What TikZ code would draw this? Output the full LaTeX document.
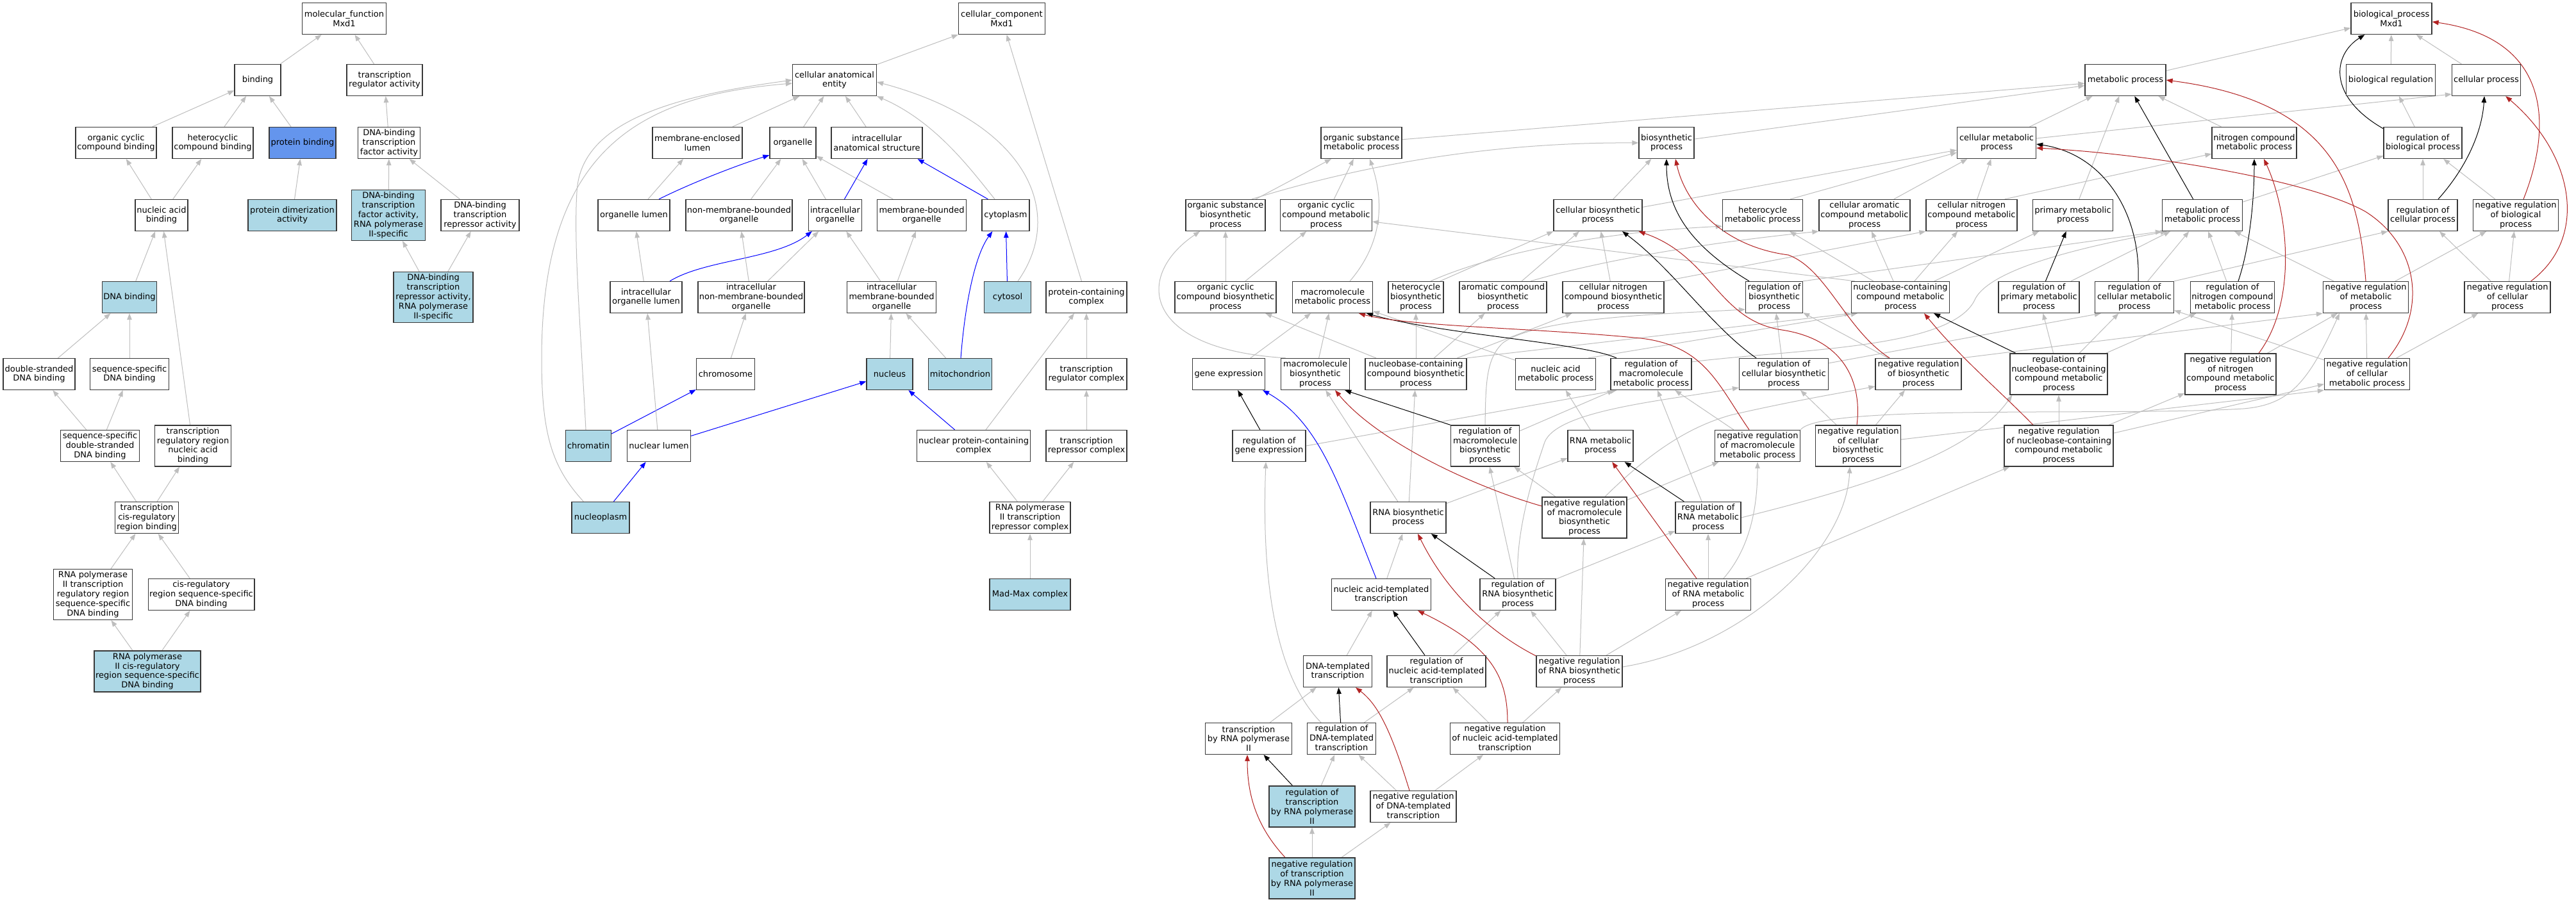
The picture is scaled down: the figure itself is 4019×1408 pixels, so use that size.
\documentclass[tikz,border=0pt]{standalone}
\usepackage{fontspec}
\setmainfont{DejaVu Sans}
\usetikzlibrary{arrows.meta,calc}
\definecolor{lb}{HTML}{ADD8E6}
\definecolor{cfb}{HTML}{6495ED}
\definecolor{eg}{HTML}{BEBEBE}
\definecolor{fb}{HTML}{B22222}
\definecolor{bd}{HTML}{383838}
\pgfdeclarelayer{edges}
\pgfsetlayers{edges,main}
\begin{document}
\begin{tikzpicture}[x=1pt,y=-1pt,
 box/.style={draw=bd,line width=1.3pt,fill=white,rectangle,inner xsep=2pt,inner ysep=0pt,align=center,minimum height=49pt,font=\fontsize{13pt}{14.8pt}\selectfont},
 hl/.style={box,fill=lb},
 h4/.style={minimum height=64pt},
 h5/.style={minimum height=79pt},
 edg/.style={line width=1pt,-{Triangle[length=10pt,width=7.5pt]}},
 isa/.style={edg,draw=eg},
 rg/.style={edg,draw=black},
 nr/.style={edg,draw=fb},
 po/.style={edg,draw=blue},
]
\useasboundingbox (0,0) rectangle (4019,1408);
% ---------------- molecular function
\node[box,minimum width=131pt] (mf) at (537,29) {molecular\_function\\Mxd1};
\node[box,minimum width=72pt] (binding) at (402,125) {binding};
\node[box,minimum width=118pt] (tra) at (600,125) {transcription\\regulator activity};
\node[box,minimum width=126pt] (occb) at (181,223) {organic cyclic\\compound binding};
\node[box,minimum width=126pt] (hccb) at (332,223) {heterocyclic\\compound binding};
\node[box,fill=cfb,minimum width=104pt] (pb) at (472,223) {protein binding};
\node[box,minimum width=97pt] (dbtfa) at (607,223) {DNA-binding\\transcription\\factor activity};
\node[box,minimum width=82pt] (nab) at (252,336) {nucleic acid\\binding};
\node[hl,minimum width=138pt] (pda) at (456,336) {protein dimerization\\activity};
\node[hl,h5,minimum width=115pt] (dbtf2) at (606,336) {DNA-binding\\transcription\\factor activity,\\RNA polymerase\\II-specific};
\node[box,minimum width=122pt] (dbtra) at (749,336) {DNA-binding\\transcription\\repressor activity};
\node[hl,minimum width=85pt] (dnab) at (202,464) {DNA binding};
\node[hl,h5,minimum width=124pt] (dbtrr2) at (676,464) {DNA-binding\\transcription\\repressor activity,\\RNA polymerase\\II-specific};
\node[box,minimum width=112pt] (dsdb) at (61,584) {double-stranded\\DNA binding};
\node[box,minimum width=123pt] (ssdb) at (202,584) {sequence-specific\\DNA binding};
\node[box,minimum width=123pt] (ssdsdb) at (156,696) {sequence-specific\\double-stranded\\DNA binding};
\node[box,h4,minimum width=119pt] (trrnab) at (301,696) {transcription\\regulatory region\\nucleic acid\\binding};
\node[box,minimum width=99pt] (tcrrb) at (229,808) {transcription\\cis-regulatory\\region binding};
\node[box,h5,minimum width=123pt] (rnap2trr) at (145,928) {RNA polymerase\\II transcription\\regulatory region\\sequence-specific\\DNA binding};
\node[box,minimum width=165pt] (crrssdb) at (314,928) {cis-regulatory\\region sequence-specific\\DNA binding};
\node[hl,h4,minimum width=166pt] (rnap2crr) at (230,1048) {RNA polymerase\\II cis-regulatory\\region sequence-specific\\DNA binding};
% ---------------- cellular component
\node[box,minimum width=135pt] (cc) at (1563,29) {cellular\_component\\Mxd1};
\node[box,minimum width=131pt] (cae) at (1302,125) {cellular anatomical\\entity};
\node[box,minimum width=140pt] (mel) at (1088,223) {membrane-enclosed\\lumen};
\node[box,minimum width=72pt] (org) at (1237,223) {organelle};
\node[box,minimum width=142pt] (ias) at (1368,223) {intracellular\\anatomical structure};
\node[box,minimum width=112pt] (ol) at (989,336) {organelle lumen};
\node[box,minimum width=166pt] (nmbo) at (1153,336) {non-membrane-bounded\\organelle};
\node[box,minimum width=83pt] (io) at (1303,336) {intracellular\\organelle};
\node[box,minimum width=139pt] (mbo) at (1438,336) {membrane-bounded\\organelle};
\node[box,minimum width=74pt] (cytoplasm) at (1569,336) {cytoplasm};
\node[box,minimum width=112pt] (iol) at (1008,464) {intracellular\\organelle lumen};
\node[box,minimum width=166pt] (inmbo) at (1172,464) {intracellular\\non-membrane-bounded\\organelle};
\node[box,minimum width=139pt] (imbo) at (1391,464) {intracellular\\membrane-bounded\\organelle};
\node[hl,minimum width=73pt] (cytosol) at (1572,464) {cytosol};
\node[box,minimum width=126pt] (pcc) at (1695,464) {protein-containing\\complex};
\node[box,minimum width=91pt] (chromosome) at (1132,584) {chromosome};
\node[hl,minimum width=72pt] (nucleus) at (1388,584) {nucleus};
\node[hl,minimum width=99pt] (mito) at (1498,584) {mitochondrion};
\node[box,minimum width=126pt] (trc) at (1695,584) {transcription\\regulator complex};
\node[hl,minimum width=71pt] (chromatin) at (918,696) {chromatin};
\node[box,minimum width=99pt] (nl) at (1028,696) {nuclear lumen};
\node[box,minimum width=177pt] (npcc) at (1519,696) {nuclear protein-containing\\complex};
\node[box,minimum width=126pt] (trepc) at (1695,696) {transcription\\repressor complex};
\node[hl,minimum width=90pt] (nucleoplasm) at (937,808) {nucleoplasm};
\node[box,minimum width=126pt] (rnap2trc) at (1607,808) {RNA polymerase\\II transcription\\repressor complex};
\node[hl,minimum width=126pt] (madmax) at (1607,928) {Mad-Max complex};
% ---------------- biological process
\node[box,minimum width=126pt] (bp) at (3731,29) {biological\_process\\Mxd1};
\node[box,minimum width=126pt] (mp) at (3316,125) {metabolic process};
\node[box,minimum width=139pt] (breg) at (3730,125) {biological regulation};
\node[box,minimum width=107pt] (cp) at (3879,125) {cellular process};
\node[box,minimum width=126pt] (osmp) at (2124,223) {organic substance\\metabolic process};
\node[box,minimum width=86pt] (bsp) at (2600,223) {biosynthetic\\process};
\node[box,minimum width=123pt] (cmp) at (3115,223) {cellular metabolic\\process};
\node[box,minimum width=132pt] (ncmp) at (3517,223) {nitrogen compound\\metabolic process};
\node[box,minimum width=122pt] (rbp) at (3780,223) {regulation of\\biological process};
\node[box,minimum width=124pt] (osbp) at (1912,336) {organic substance\\biosynthetic\\process};
\node[box,minimum width=143pt] (occmp) at (2069,336) {organic cyclic\\compound metabolic\\process};
\node[box,minimum width=138pt] (cbp) at (2493,336) {cellular biosynthetic\\process};
\node[box,minimum width=125pt] (hmp) at (2750,336) {heterocycle\\metabolic process};
\node[box,minimum width=142pt] (camp) at (2909,336) {cellular aromatic\\compound metabolic\\process};
\node[box,minimum width=142pt] (cncmp) at (3076,336) {cellular nitrogen\\compound metabolic\\process};
\node[box,minimum width=125pt] (pmp) at (3234,336) {primary metabolic\\process};
\node[box,minimum width=125pt] (rmp) at (3436,336) {regulation of\\metabolic process};
\node[box,minimum width=108pt] (rcp) at (3780,336) {regulation of\\cellular process};
\node[box,minimum width=133pt] (nrbp) at (3925,336) {negative regulation\\of biological\\process};
\node[box,minimum width=158pt] (occbp) at (1912,464) {organic cyclic\\compound biosynthetic\\process};
\node[box,minimum width=125pt] (mmp) at (2079,464) {macromolecule\\metabolic process};
\node[box,minimum width=86pt] (hbp) at (2209,464) {heterocycle\\biosynthetic\\process};
\node[box,minimum width=136pt] (acbp) at (2345,464) {aromatic compound\\biosynthetic\\process};
\node[box,minimum width=158pt] (cncbp) at (2517,464) {cellular nitrogen\\compound biosynthetic\\process};
\node[box,minimum width=89pt] (rbsp) at (2768,464) {regulation of\\biosynthetic\\process};
\node[box,minimum width=153pt] (nbcmp) at (2965,464) {nucleobase-containing\\compound metabolic\\process};
\node[box,minimum width=126pt] (rpmp) at (3181,464) {regulation of\\primary metabolic\\process};
\node[box,minimum width=123pt] (rcmp) at (3330,464) {regulation of\\cellular metabolic\\process};
\node[box,minimum width=131pt] (rncmp) at (3483,464) {regulation of\\nitrogen compound\\metabolic process};
\node[box,minimum width=133pt] (nrmp) at (3691,464) {negative regulation\\of metabolic\\process};
\node[box,minimum width=134pt] (nrcp) at (3912,464) {negative regulation\\of cellular\\process};
\node[box,minimum width=113pt] (ge) at (1917,584) {gene expression};
\node[box,minimum width=107pt] (mbp) at (2052,584) {macromolecule\\biosynthetic\\process};
\node[box,minimum width=158pt] (nbcbp) at (2209,584) {nucleobase-containing\\compound biosynthetic\\process};
\node[box,minimum width=125pt] (namp) at (2427,584) {nucleic acid\\metabolic process};
\node[box,minimum width=126pt] (rmmp) at (2576,584) {regulation of\\macromolecule\\metabolic process};
\node[box,minimum width=139pt] (rcbp) at (2783,584) {regulation of\\cellular biosynthetic\\process};
\node[box,minimum width=134pt] (nrbsp) at (2993,584) {negative regulation\\of biosynthetic\\process};
\node[box,h4,minimum width=152pt] (rnbcmp) at (3212,584) {regulation of\\nucleobase-containing\\compound metabolic\\process};
\node[box,h4,minimum width=142pt] (nrncmp) at (3480,584) {negative regulation\\of nitrogen\\compound metabolic\\process};
\node[box,minimum width=133pt] (nrcmp) at (3693,584) {negative regulation\\of cellular\\metabolic process};
\node[box,minimum width=114pt] (rge) at (1980,696) {regulation of\\gene expression};
\node[box,h4,minimum width=107pt] (rmbp) at (2317,696) {regulation of\\macromolecule\\biosynthetic\\process};
\node[box,minimum width=102pt] (rnamp) at (2497,696) {RNA metabolic\\process};
\node[box,minimum width=133pt] (nrmmp) at (2742,696) {negative regulation\\of macromolecule\\metabolic process};
\node[box,h4,minimum width=133pt] (nrcbp) at (2899,696) {negative regulation\\of cellular\\biosynthetic\\process};
\node[box,h4,minimum width=170pt] (nrnbcmp) at (3212,696) {negative regulation\\of nucleobase-containing\\compound metabolic\\process};
\node[box,minimum width=118pt] (rnabp) at (2197,808) {RNA biosynthetic\\process};
\node[box,h4,minimum width=132pt] (nrmbp) at (2472,808) {negative regulation\\of macromolecule\\biosynthetic\\process};
\node[box,minimum width=102pt] (rrnamp) at (2665,808) {regulation of\\RNA metabolic\\process};
\node[box,minimum width=155pt] (natt) at (2155,928) {nucleic acid-templated\\transcription};
\node[box,minimum width=118pt] (rrnabp) at (2368,928) {regulation of\\RNA biosynthetic\\process};
\node[box,minimum width=133pt] (nrrnamp) at (2665,928) {negative regulation\\of RNA metabolic\\process};
\node[box,minimum width=107pt] (dtt) at (2087,1048) {DNA-templated\\transcription};
\node[box,minimum width=154pt] (rnatt) at (2241,1048) {regulation of\\nucleic acid-templated\\transcription};
\node[box,minimum width=134pt] (nrrnabp) at (2464,1048) {negative regulation\\of RNA biosynthetic\\process};
\node[box,minimum width=135pt] (tbrp2) at (1948,1153) {transcription\\by RNA polymerase\\II};
\node[box,minimum width=107pt] (rdtt) at (2093,1153) {regulation of\\DNA-templated\\transcription};
\node[box,minimum width=171pt] (nrnatt) at (2348,1153) {negative regulation\\of nucleic acid-templated\\transcription};
\node[hl,h4,minimum width=134pt] (rtrp2) at (2047,1259) {regulation of\\transcription\\by RNA polymerase\\II};
\node[box,minimum width=134pt] (nrdtt) at (2205,1259) {negative regulation\\of DNA-templated\\transcription};
\node[hl,h4,minimum width=134pt] (nrtrp2) at (2047,1371) {negative regulation\\of transcription\\by RNA polymerase\\II};

\begin{pgfonlayer}{edges}
\fill[white] (0,0) rectangle (4019,1408);
% ---- MF edges
\draw[isa] (binding) -- (mf);
\draw[isa] (tra) -- (mf);
\draw[isa] (occb) -- (binding);
\draw[isa] (hccb) -- (binding);
\draw[isa] (pb) -- (binding);
\draw[isa] (dbtfa) -- (tra);
\draw[isa] (nab) -- (occb);
\draw[isa] (nab) -- (hccb);
\draw[isa] (pda) -- (pb);
\draw[isa] (dbtf2) -- (dbtfa);
\draw[isa] (dbtra) -- (dbtfa);
\draw[isa] (dbtrr2) -- (dbtf2);
\draw[isa] (dbtrr2) -- (dbtra);
\draw[isa] (dnab) -- (nab);
\draw[isa] (trrnab) -- (nab);
\draw[isa] (dsdb) -- (dnab);
\draw[isa] (ssdb) -- (dnab);
\draw[isa] (ssdsdb) -- (dsdb);
\draw[isa] (ssdsdb) -- (ssdb);
\draw[isa] (tcrrb) -- (ssdsdb);
\draw[isa] (tcrrb) -- (trrnab);
\draw[isa] (rnap2trr) -- (tcrrb);
\draw[isa] (crrssdb) -- (tcrrb);
\draw[isa] (rnap2crr) -- (rnap2trr);
\draw[isa] (rnap2crr) -- (crrssdb);
% ---- CC edges
\draw[isa] (cae) -- (cc);
\draw[isa] (pcc) -- (cc);
\draw[isa] (mel) -- (cae);
\draw[isa] (org) -- (cae);
\draw[isa] (ias) -- (cae);
\draw[isa] ($(chromatin.north)+(-4,0)$) .. controls (905,500) and (895,380) .. (900,300) .. controls (905,190) and (1050,150) .. (cae.west);
\draw[isa] ($(nucleoplasm.north west)+(19,0)$) .. controls (862,730) and (845,680) .. (845,560) .. controls (845,230) and (1000,150) .. ($(cae.west)+(0,5)$);
\draw[isa] ($(cytoplasm.north)+(-17,0)$) .. controls (1515,265) and (1460,190) .. (cae.south east);
\draw[isa] ($(cytosol.north)+(16,0)$) .. controls (1665,330) and (1600,190) .. ($(cae.east)+(0,3)$);
\draw[isa] (ol) -- (mel);
\draw[po] ($(ol.north)+(39,0)$) .. controls (1080,285) and (1150,258) .. ($(org.south west)+(0,-6)$);
\draw[isa] (nmbo) -- (org);
\draw[isa] (io) -- (org);
\draw[isa] (mbo) -- (org);
\draw[po] (io) -- (ias);
\draw[po] ($(cytoplasm.north west)+(10,0)$) -- ($(ias.south east)+(-8,0)$);
\draw[isa] (iol) -- (ol);
\draw[po] ($(iol.north)+(37,0)$) .. controls (1100,405) and (1210,405) .. ($(io.south west)+(6,0)$);
\draw[isa] (inmbo) -- (nmbo);
\draw[isa] (inmbo) -- (io);
\draw[isa] (imbo) -- (io);
\draw[isa] (imbo) -- (mbo);
\draw[isa] (chromosome) -- (inmbo);
\draw[isa] (nucleus) -- (imbo);
\draw[isa] (mito) -- (imbo);
\draw[po] ($(mito.north)+(1,0)$) .. controls (1505,480) and (1520,400) .. ($(cytoplasm.south west)+(17,0)$);
\draw[po] (cytosol) -- (cytoplasm);
\draw[po] (chromatin) -- (chromosome);
\draw[isa] (nl) -- (iol);
\draw[po] (nl) -- (nucleus);
\draw[po] (npcc) -- (nucleus);
\draw[isa] (npcc) -- (pcc);
\draw[po] (nucleoplasm) -- (nl);
\draw[isa] (trc) -- (pcc);
\draw[isa] (trepc) -- (trc);
\draw[isa] (rnap2trc) -- (npcc);
\draw[isa] (rnap2trc) -- (trepc);
\draw[isa] (madmax) -- (rnap2trc);
% ---- BP is_a edges
\draw[isa] (osmp) -- (mp);
\draw[isa] (bsp) -- (mp);
\draw[isa] (cmp) -- (mp);
\draw[isa] (pmp) -- (mp);
\draw[isa] (ncmp) -- (mp);
\draw[isa] (mp) -- (bp);
\draw[isa] (breg) -- (bp);
\draw[isa] (cp) -- (bp);
\draw[isa] (rbp) -- (breg);
\draw[isa] ($(cmp.east)+(0,-7)$) -- ($(cp.west)+(0,22)$);
\draw[isa] (rcp) -- (rbp);
\draw[isa] (nrbp) -- (rbp);
\draw[isa] (rmp) -- (rbp);
\draw[isa] (nrcp) -- (rcp);
\draw[isa] (nrcp) -- (nrbp);
\draw[isa] (nrmp) -- (rmp);
\draw[isa] (nrmp) -- (nrbp);
\draw[isa] (nrcmp) -- (nrmp);
\draw[isa] (nrcmp) -- (nrcp);
\draw[isa] (nrcmp) -- (rcmp);
\draw[isa] (rcmp) -- (rmp);
\draw[isa] (rcmp.north east) -- (rcp.south west);
\draw[isa] (rpmp) -- (rmp);
\draw[isa] (rncmp) -- (rmp);
\draw[isa] (rbsp.north east) -- (rmp.south west);
\draw[isa] ($(rmmp.north east)+(0,6)$) .. controls (2800,545) and (3040,545) .. (3080,470) .. controls (3100,420) and (3250,385) .. ($(rmp.south west)+(8,0)$);
\draw[isa] ($(rcbp.north east)+(0,8)$) -- ($(rcmp.south west)+(10,0)$);
\draw[isa] (rcbp) -- (rbsp);
\draw[isa] (rnbcmp) -- (rpmp);
\draw[isa] (rnbcmp) -- (rcmp);
\draw[isa] (rnbcmp) -- (rncmp);
\draw[isa] (nrncmp) -- (rncmp);
\draw[isa] (nrncmp) -- (nrmp);
\draw[isa] (nrbsp) -- (rbsp);
\draw[isa] (nrbsp.north east) -- (nrmp.south west);
\draw[isa] (nrmmp) -- (rmmp);
\draw[isa] (nrmmp.north east) .. controls (2840,630) and (3300,650) .. (3500,638) .. controls (3570,632) and (3600,600) .. ($(nrmp.south)+(-41,0)$);
\draw[isa] (nrcbp) -- (rcbp);
\draw[isa] (nrcbp) -- (nrbsp);
\draw[isa] ($(nrcbp.east)+(0,-10)$) -- (nrcmp.south west);
\draw[isa] (nrnbcmp) -- (rnbcmp);
\draw[isa] (nrnbcmp) -- (nrncmp);
\draw[isa] (nrnbcmp) -- (nrcmp);
\draw[isa] (rge.east) -- ($(rmmp.south west)+(10,0)$);
\draw[isa] (rmbp) -- (rmmp);
\draw[isa] (rmbp.north) .. controls (2318,600) and (2318,560) .. (2345,535) .. controls (2400,495) and (2600,490) .. ($(rbsp.west)+(0,19)$);
\draw[isa] (rrnamp) -- (rmmp);
\draw[isa] (rrnamp.east) .. controls (2950,750) and (3080,700) .. ($(rnbcmp.south west)+(4,0)$);
\draw[isa] (nrmbp) -- (rmbp);
\draw[isa] (nrmbp) -- (nrmmp);
\draw[isa] ($(nrmbp.north)+(32,0)$) .. controls (2580,700) and (2640,665) .. (2700,648) .. controls (2800,625) and (2880,612) .. ($(nrbsp.south west)+(0,-6)$);
\draw[isa] (rrnabp) -- (rmbp);
\draw[isa] (rrnabp) -- (rrnamp);
\draw[isa] (rrnabp.north) .. controls (2364,820) and (2400,720) .. (2410,690) .. controls (2430,640) and (2600,625) .. ($(rcbp.south west)+(0,-4)$);
\draw[isa] (nrrnamp) -- (rrnamp);
\draw[isa] (nrrnamp) -- (nrnbcmp);
\draw[isa] ($(nrrnamp.north)+(24,0)$) .. controls (2735,850) and (2742,780) .. (nrmmp.south);
\draw[isa] (nrrnabp) -- (rrnabp);
\draw[isa] (nrrnabp) -- (nrmbp);
\draw[isa] (nrrnabp) -- (nrrnamp);
\draw[isa] ($(nrrnabp.east)+(0,-7)$) .. controls (2720,1010) and (2880,860) .. ($(nrcbp.south)+(-13,0)$);
\draw[isa] (rnatt) -- (rrnabp);
\draw[isa] (nrnatt) -- (rnatt);
\draw[isa] (nrnatt) -- (nrrnabp);
\draw[isa] (rdtt) -- (rnatt);
\draw[isa] ($(rdtt.north)+(-32,0)$) .. controls (1975,1040) and (1970,850) .. ($(rge.south)+(-5,0)$);
\draw[isa] (nrdtt) -- (rdtt);
\draw[isa] (nrdtt) -- (nrnatt);
\draw[isa] (rtrp2) -- (rdtt);
\draw[isa] (nrtrp2) -- (rtrp2);
\draw[isa] (nrtrp2) -- (nrdtt);
\draw[isa] (tbrp2) -- (dtt);
\draw[isa] (dtt) -- (natt);
\draw[isa] (natt) -- (rnabp);
\draw[isa] (rnabp) -- (rnamp);
\draw[isa] (rnabp) -- (mbp);
\draw[isa] (rnabp) -- (nbcbp);
\draw[isa] (rnamp) -- (namp);
\draw[isa] (namp) -- (mmp);
\draw[isa] ($(namp.north east)+(-12,0)$) -- ($(nbcmp.south west)+(10,0)$);
\draw[isa] (nbcbp) -- (occbp);
\draw[isa] (nbcbp) -- (hbp);
\draw[isa] (nbcbp) -- (acbp);
\draw[isa] (nbcbp) -- (cncbp);
\draw[isa] (nbcbp.north east) -- (nbcmp.south west);
\draw[isa] (mbp) -- (mmp);
\draw[isa] ($(mbp.north west)+(8,0)$) .. controls (1780,545) and (1770,430) .. ($(osbp.south)+(-40,0)$);
\draw[isa] (ge) -- (mmp);
\draw[isa] ($(mmp.north)+(27,0)$) .. controls (2165,370) and (2155,300) .. ($(osmp.south)+(13,0)$);
\draw[isa] (occbp) -- (osbp);
\draw[isa] (occbp) -- (occmp);
\draw[isa] ($(hbp.north east)+(-6,0)$) -- (cbp.south west);
\draw[isa] ($(hbp.north)+(23,0)$) .. controls (2330,395) and (2500,362) .. ($(hmp.south west)+(0,-8)$);
\draw[isa] (acbp) -- (cbp);
\draw[isa] ($(acbp.north)+(43,0)$) .. controls (2520,400) and (2700,375) .. (camp.south west);
\draw[isa] (cncbp) -- (cbp);
\draw[isa] (cncbp.north east) -- (cncmp.south west);
\draw[isa] (osbp) -- (osmp);
\draw[isa] ($(osbp.north)+(41,0)$) .. controls (2150,250) and (2350,222) .. (bsp.west);
\draw[isa] (occmp) -- (osmp);
\draw[isa] (cbp) -- (bsp);
\draw[isa] (cbp) -- (cmp);
\draw[isa] ($(hmp.north east)+(-20,0)$) -- ($(cmp.west)+(0,15)$);
\draw[isa] (camp) -- (cmp);
\draw[isa] (cncmp) -- (cmp);
\draw[isa] ($(cncmp.north east)+(-20,0)$) -- ($(ncmp.south west)+(0,-8)$);
\draw[isa] ($(nbcmp.north west)+(6,0)$) -- ($(occmp.east)+(0,10)$);
\draw[isa] (nbcmp) -- (hmp);
\draw[isa] (nbcmp) -- (camp);
\draw[isa] (nbcmp) -- (cncmp);
\draw[isa] (nbcmp) -- (pmp);
% ---- BP regulates edges
\draw[rg] ($(rbp.north west)+(0,3)$) .. controls (3630,150) and (3640,85) .. ($(bp.south west)+(22,0)$);
\draw[rg] ($(rcp.north)+(24,0)$) .. controls (3845,265) and (3872,210) .. ($(cp.south)+(-3,0)$);
\draw[rg] (rmp) -- (mp);
\draw[rg] ($(rcmp.north)+(6,0)$) .. controls (3340,330) and (3280,240) .. ($(cmp.east)+(0,2)$);
\draw[rg] (rpmp) -- (pmp);
\draw[rg] ($(rncmp.north)+(9,0)$) .. controls (3512,380) and (3517,300) .. (ncmp.south);
\draw[rg] ($(rbsp.north)+(-39,0)$) .. controls (2640,385) and (2600,330) .. (bsp.south);
\draw[rg] ($(rcbp.north)+(-43,0)$) .. controls (2670,510) and (2610,420) .. ($(cbp.south)+(38,0)$);
\draw[rg] ($(rmmp.north)+(-54,0)$) .. controls (2470,535) and (2250,522) .. ($(mmp.south)+(53,0)$);
\draw[rg] (rnbcmp) -- ($(nbcmp.south)+(52,0)$);
\draw[rg] (rge) -- (ge);
\draw[rg] (rmbp.north west) -- ($(mbp.south east)+(-8,0)$);
\draw[rg] (rrnamp) -- (rnamp);
\draw[rg] (rrnabp) -- (rnabp);
\draw[rg] (rnatt) -- (natt);
\draw[rg] (rdtt) -- (dtt);
\draw[rg] (rtrp2) -- (tbrp2);
% ---- BP negatively regulates edges
\draw[nr] ($(nrbp.north)+(12,0)$) .. controls (3985,190) and (3975,60) .. ($(bp.east)+(0,5)$);
\draw[nr] ($(nrcp.north east)+(-31,0)$) .. controls (4040,370) and (4015,240) .. ($(cp.south east)+(-24,0)$);
\draw[nr] (nrmp.north) .. controls (3680,300) and (3650,160) .. (mp.east);
\draw[nr] ($(nrcmp.north)+(33,0)$) .. controls (3790,480) and (3770,380) .. (3690,330) .. controls (3600,280) and (3350,240) .. ($(cmp.east)+(0,8)$);
\draw[nr] ($(nrncmp.north)+(44,0)$) .. controls (3585,470) and (3570,330) .. ($(ncmp.south)+(15,0)$);
\draw[nr] ($(nrbsp.north)+(-45,0)$) .. controls (2880,515) and (2850,420) .. (2790,398) .. controls (2690,385) and (2630,320) .. ($(bsp.south)+(14,0)$);
\draw[nr] ($(nrcbp.north)+(-2,0)$) .. controls (2905,600) and (2880,530) .. (2780,515) .. controls (2680,500) and (2670,400) .. ($(cbp.south east)+(-6,0)$);
\draw[nr] ($(nrmmp.north)+(-13,0)$) .. controls (2680,600) and (2660,540) .. (2560,528) .. controls (2400,512) and (2200,510) .. ($(mmp.south)+(41,0)$);
\draw[nr] ($(nrnbcmp.north)+(-40,0)$) .. controls (3120,610) and (3060,560) .. ($(nbcmp.south)+(37,0)$);
\draw[nr] ($(nrmbp.west)+(0,-18)$) .. controls (2300,760) and (2150,690) .. ($(mbp.south)+(31,0)$);
\draw[nr] (nrrnamp) -- (rnamp);
\draw[nr] ($(nrrnabp.north west)+(0,1)$) .. controls (2330,990) and (2260,930) .. ($(rnabp.south)+(15,0)$);
\draw[nr] ($(nrnatt.north)+(4,0)$) .. controls (2352,1060) and (2330,1010) .. ($(natt.south)+(57,0)$);
\draw[nr] ($(nrdtt.north)+(-6,0)$) .. controls (2170,1140) and (2150,1100) .. ($(dtt.south)+(28,0)$);
\draw[nr] ($(nrtrp2.north)+(-42,0)$) .. controls (1960,1290) and (1946,1240) .. ($(tbrp2.south)+(-2,0)$);
% ---- part of
\draw[po] ($(natt.north)+(-8,0)$) .. controls (2090,760) and (2060,660) .. ($(ge.south east)+(-4,0)$);
\end{pgfonlayer}
\end{tikzpicture}
\end{document}
